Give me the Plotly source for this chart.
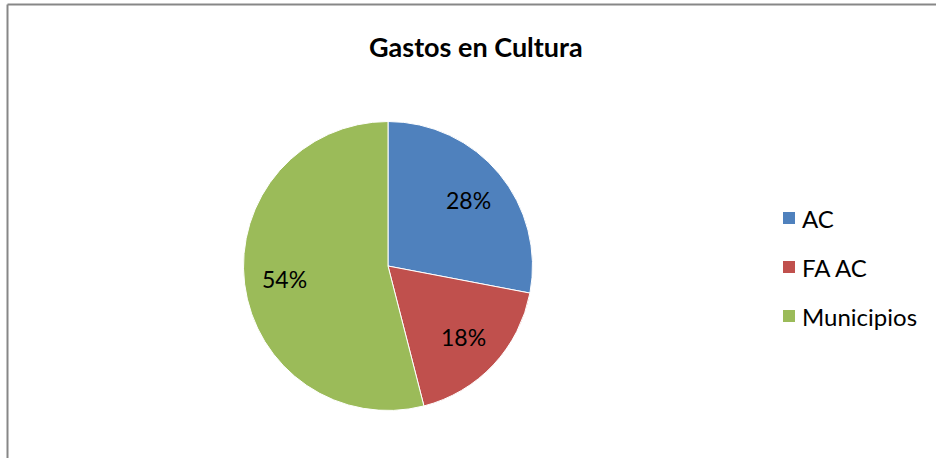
import math
import plotly.graph_objects as go

# Spending on culture, share by administration level
labels = ["AC", "FA AC", "Municipios"]
values = [28, 18, 54]
colors = ["#4F81BD", "#C0504D", "#9BBB59"]
title_text = "Gastos en Cultura"

W, H = 936, 458
FONT = "Lato"


def px_x(x):
    return x / W


def px_y(y):
    return 1 - y / H


# pie placement (pixels): centre and radius
cx, cy, r = 388, 266, 144.5

fig = go.Figure(
    go.Pie(
        labels=labels,
        values=values,
        sort=False,
        direction="clockwise",
        rotation=0,
        marker=dict(colors=colors, line=dict(color="white", width=1)),
        textinfo="none",
        domain=dict(
            x=[px_x(cx - r), px_x(cx + r)],
            y=[px_y(cy + r), px_y(cy - r)],
        ),
        showlegend=False,
        hoverinfo="label+percent",
    )
)

shapes = [
    # frame lines (top and left edge of the chart area)
    dict(type="line", xref="paper", yref="paper",
         x0=px_x(7.5), x1=1.0, y0=px_y(4.5), y1=px_y(4.5),
         line=dict(color="#878787", width=2)),
    dict(type="line", xref="paper", yref="paper",
         x0=px_x(7.5), x1=px_x(7.5), y0=px_y(4.5), y1=0,
         line=dict(color="#878787", width=2)),
]

annotations = [
    dict(text="<b>" + title_text + "</b>", xref="paper", yref="paper",
         x=px_x(476), y=px_y(47), xanchor="center", yanchor="middle",
         showarrow=False, font=dict(family=FONT, size=27, color="black")),
]

# percentage labels, placed along each slice's mid-angle (clockwise from 12 o'clock)
total = sum(values)
cum = 0.0
for v in values:
    share = v / total
    mid = (cum + share / 2) * 2 * math.pi
    cum += share
    lx = cx + 0.72 * r * math.sin(mid)
    ly = cy - 0.72 * r * math.cos(mid)
    annotations.append(dict(
        text=f"{share:.0%}", xref="paper", yref="paper",
        x=px_x(lx), y=px_y(ly), xanchor="center", yanchor="middle",
        showarrow=False, font=dict(family=FONT, size=23, color="black"),
    ))

# legend drawn as swatches + labels
leg_x, leg_y0, leg_dy, sw = 783, 218, 49, 12
for i, (lab, col) in enumerate(zip(labels, colors)):
    yc = leg_y0 + i * leg_dy
    shapes.append(dict(
        type="rect", xref="paper", yref="paper",
        x0=px_x(leg_x), x1=px_x(leg_x + sw),
        y0=px_y(yc + sw / 2), y1=px_y(yc - sw / 2),
        fillcolor=col, line=dict(width=0),
    ))
    annotations.append(dict(
        text=lab, xref="paper", yref="paper",
        x=px_x(leg_x + sw + 5), y=px_y(yc), xanchor="left", yanchor="middle",
        showarrow=False, font=dict(family=FONT, size=24, color="black"),
    ))

fig.update_layout(
    width=W, height=H,
    margin=dict(l=0, r=0, t=0, b=0),
    paper_bgcolor="white",
    plot_bgcolor="white",
    shapes=shapes,
    annotations=annotations,
)

fig.write_html("out.html")
